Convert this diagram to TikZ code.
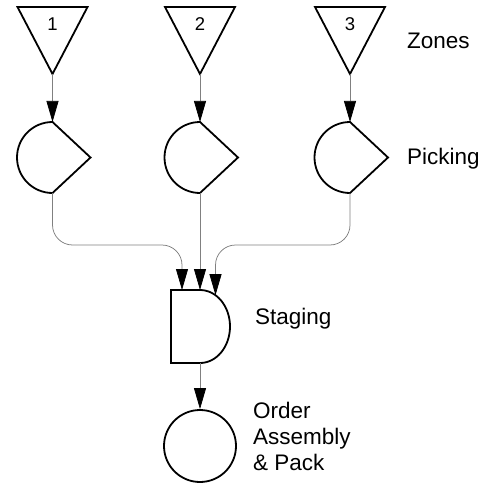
\documentclass[tikz,border=0pt]{standalone}
\usepackage{fontspec}
\setmainfont{Liberation Sans}
\usetikzlibrary{arrows.meta}
\begin{document}
\begin{tikzpicture}[x=1pt,y=-1pt,
  shp/.style={draw=black,line width=1.8pt},
  flow/.style={draw=black!50,line width=0.75pt,-{Triangle[length=21pt,width=12pt,color=black,fill=black]}},
  lbl/.style={font=\fontsize{22.5}{27}\selectfont,inner sep=0pt,anchor=base west},
  num/.style={font=\fontsize{18.5}{22}\selectfont,inner sep=0pt}]
\useasboundingbox (0,0) rectangle (479,484);

\foreach \i/\cx in {1/52.5,2/200,3/350} {
  \draw[shp] (\cx-35,7) -- (\cx+35,7) -- (\cx,74) -- cycle;
  \coordinate (z\i) at (\cx,74);
  \node[num] (n\i) at (\cx,24) {\i};
  \draw[shp] (\cx,122) arc[start angle=270,end angle=90,radius=35.5] -- (\cx+38,157.5) -- cycle;
  \coordinate (p\i top) at (\cx,122);
  \coordinate (p\i bot) at (\cx,193);
}

% staging
\draw[shp] (171,290) -- (200,290) arc[start angle=270,end angle=450,x radius=30,y radius=36.5] -- (171,363) -- cycle;
\coordinate (s1) at (182,290);
\coordinate (s2) at (200,290);
\coordinate (s3) at (215.5,295.2);
\coordinate (sbot) at (200,363);
\coordinate (j1) at (182,245);
\coordinate (j3) at (215.5,245);

% order
\node[shp,circle,minimum size=72pt,inner sep=0pt] (order) at (200,446) {};

% connectors
\draw[flow] (z1) -- (p1top);
\draw[flow] (z2) -- (p2top);
\draw[flow] (z3) -- (p3top);
\draw[flow,rounded corners=20pt] (p1bot) |- (j1) -- (s1);
\draw[flow] (p2bot) -- (s2);
\draw[flow,rounded corners=20pt] (p3bot) |- (j3) -- (s3);
\draw[flow] (sbot) -- (order.north);

% labels
\node[lbl] (zones) at (407,49) {Zones};
\node[lbl] (picking) at (407,164) {Picking};
\node[lbl] (staging) at (255,324) {Staging};
\node[lbl] (oa) at (253,418) {Order};
\node[lbl] (ob) at (253,444) {Assembly};
\node[lbl] (oc) at (253,470) {\& Pack};
\end{tikzpicture}
\end{document}
